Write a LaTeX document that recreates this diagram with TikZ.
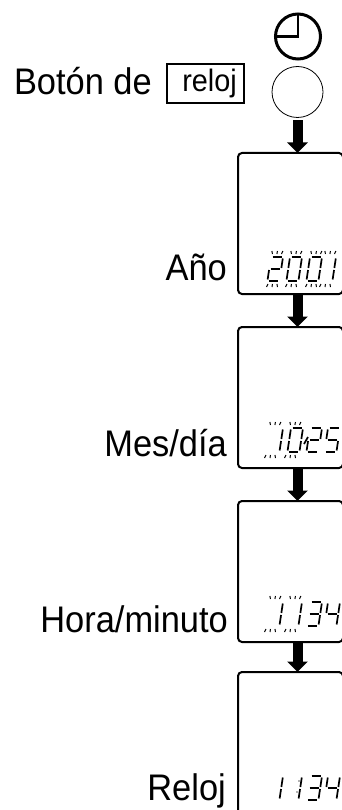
\documentclass[tikz,border=0pt]{standalone}
\usepackage{fontspec}
\setmainfont[FakeStretch=0.93]{Liberation Sans}
\usetikzlibrary{arrows.meta,calc}

\newcommand{\lcdsega}{(1.5,0) -- (11,0)}
\newcommand{\lcdsegb}{(12,1.5) -- (12,11)}
\newcommand{\lcdsegc}{(12,13) -- (12,22.5)}
\newcommand{\lcdsegd}{(1.5,24) -- (10.5,24)}
\newcommand{\lcdsege}{(0,13) -- (0,22.5)}
\newcommand{\lcdsegf}{(0,1.5) -- (0,11)}
\newcommand{\lcdsegg}{(1.5,12) -- (10.5,12)}

\newcommand{\lcddigit}[3]{
   \begin{scope}[shift={(#1,#2)},xslant=0.15]
      \foreach \s in {#3} {\draw [lcdline] \csname lcdseg\s\endcsname;}
   \end{scope}
}
\newcommand{\lcdrays}[2]{
   \begin{scope}[shift={(#1,#2)},xslant=0.15]
      \draw [lcdray] (0,-6) -- (1,-3);
      \draw [lcdray] (5.5,-6) -- (5.5,-3);
      \draw [lcdray] (11,-6) -- (10,-3);
      \draw [lcdray] (0,30) -- (1,27);
      \draw [lcdray] (5.5,30) -- (5.5,27);
      \draw [lcdray] (11,30) -- (10,27);
   \end{scope}
}

\tikzset{
   lcdline/.style={line width=1.7pt,black},
   lcdray/.style={line width=1pt,black},
   lbl/.style={font=\fontsize{37}{40}\selectfont,anchor=base east,inner sep=0pt},
   lcdbox/.style={draw,rounded corners=4pt,line width=2pt,minimum width=105pt,inner sep=0pt,outer sep=0pt,anchor=north west},
   fatarrow/.style={-{Triangle[length=10.5pt,width=20pt]},line width=10pt}
}

\begin{document}
\begin{tikzpicture}[x=1pt,y=-1pt]

   \useasboundingbox (0,0) rectangle (342,810);
   \clip (0,0) rectangle (342,810);

   \node[draw,circle,line width=3pt,minimum size=45pt,inner sep=0pt,outer sep=0pt] (clk) at (298,36.5) {};
   \draw [line width=2.8pt] (clk.north) -- (clk.center) -- (clk.west);
   \node[draw,circle,line width=0.8pt,minimum size=51pt,inner sep=0pt,outer sep=0pt] (btn) at (297.5,92) {};

   \node[lbl] (lblbtn) at (152,95) {Botón de};
   \node[draw,line width=2pt,minimum width=77pt,minimum height=39pt,inner sep=0pt,outer sep=0pt,font=\fontsize{31}{32}\selectfont] (reloj) at (205.5,83.5) {\hspace{8pt}reloj};

   \node[lcdbox,minimum height=141pt] (bxa) at (238,153) {};
   \node[lcdbox,minimum height=141pt] (bxb) at (238,327) {};
   \node[lcdbox,minimum height=141pt] (bxc) at (238,501) {};
   \node[lcdbox,minimum height=150pt] (bxd) at (238,672) {};

   \draw [fatarrow,shorten <=3pt] (btn.south) -- (btn.south |- bxa.north);
   \draw [fatarrow] (btn.south |- bxa.south) -- (btn.south |- bxb.north);
   \draw [fatarrow] (btn.south |- bxb.south) -- (btn.south |- bxc.north);
   \draw [fatarrow] (btn.south |- bxc.south) -- (btn.south |- bxd.north);

   \node[lbl] (lblano) at (227,280) {Año};
   \node[lbl] (lblmes) at (227,456) {Mes/día};
   \node[lbl] (lblhora) at (228,632) {Hora/minuto};
   \node[lbl] (lblreloj) at (226,800) {Reloj};

   \lcddigit{271}{257}{a,b,g,e,d}
   \lcddigit{290}{257}{a,b,c,d,e,f}
   \lcddigit{310}{257}{a,b,c,d,e,f}
   \lcddigit{324}{257}{b,c}
   \lcdrays{271}{257}
   \lcdrays{290}{257}
   \lcdrays{310}{257}
   \lcdrays{324}{257}

   \lcddigit{271}{428}{b,c}
   \lcddigit{291}{428}{a,b,c,d,e,f}
   \draw [lcdline] (304,444) -- (308,437);
   \lcddigit{310}{428}{a,b,g,e,d}
   \lcddigit{328}{428}{a,f,g,c,d}
   \lcdrays{269}{428}
   \lcdrays{289}{428}

   \lcddigit{271}{602}{b,c}
   \lcddigit{290}{602}{b,c}
   \lcddigit{310}{602}{a,b,g,c,d}
   \lcddigit{328}{602}{f,g,b,c}
   \lcdrays{269}{602}
   \lcdrays{289}{602}

   \lcddigit{271}{776}{b,c}
   \lcddigit{290}{776}{b,c}
   \fill [black!60] (299,781) circle (0.8pt);
   \fill [black!60] (297,792) circle (0.8pt);
   \lcddigit{310}{776}{a,b,g,c,d}
   \lcddigit{328}{776}{f,g,b,c}

\end{tikzpicture}
\end{document}
